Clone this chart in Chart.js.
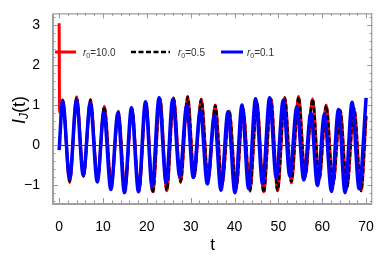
<!DOCTYPE html>
<html>
<head>
<meta charset="utf-8">
<script src="https://cdn.jsdelivr.net/npm/chart.js@4.4.1/dist/chart.umd.min.js"></script>
<style>
  html, body { margin: 0; padding: 0; background: #fff; }
  canvas { display: block; }
</style>
</head>
<body>
<canvas id="chart" width="382" height="257"></canvas>
<script>
// tick labels
const xTicks = [0, 10, 20, 30, 40, 50, 60, 70];
const yTicks = [-1, 0, 1, 2, 3];

// r0 = 0.1 (blue): start, then alternating peak / trough
const blueT = [0, 0.8, 2.4, 3.95, 5.5, 7.1, 8.7, 10.2, 11.8, 13.4, 14.9, 16.5, 18.1, 19.7, 21.2,
  22.8, 24.4, 25.9, 27.5, 29.1, 30.6, 32.2, 33.8, 35.4, 36.9, 38.5, 40.1, 41.7, 43.2, 44.8, 46.4,
  48.0, 49.5, 51.1, 52.6, 54.2, 55.8, 57.4, 58.9, 60.5, 62.1, 63.7, 65.2, 66.8, 68.4, 70.0];
const blueV = [-0.13, 1.1, -0.85, 1.12, -0.76, 1.05, -0.93, 0.82, -1.12, 0.8, -1.2, 0.93, -1.18, 1.08, -1.05,
  1.18, -0.95, 1.14, -0.79, 0.99, -0.82, 0.86, -0.98, 0.73, -1.14, 0.83, -1.2, 1.0, -1.1, 1.16, -0.98,
  1.18, -0.82, 1.12, -0.78, 0.95, -0.88, 0.8, -1.02, 0.77, -1.17, 0.89, -1.2, 1.07, -1.1, 1.18];

// r0 = 10.0 (red) and r0 = 0.5 (black) share the same oscillation times
const osciT = [0.8, 2.4, 4.0, 5.55, 7.15, 8.75, 10.3, 11.9, 13.5, 15.0, 16.6, 18.2, 19.8, 21.35,
  23.0, 24.55, 26.1, 27.7, 29.3, 30.8, 32.4, 34.0, 35.6, 37.15, 38.8, 40.35, 41.95, 43.5, 45.1,
  46.65, 48.3, 49.8, 51.45, 52.95, 54.6, 56.1, 57.8, 59.3, 60.9, 62.45, 64.1, 65.6, 67.25, 68.85, 70.0];
const redStartT = [0, 0.1];
const redStartV = [3.05, 0.82];
const redV = [1.13, -0.95, 1.21, -0.8, 1.14, -0.88, 0.97, -1.0, 0.84, -1.1, 0.9, -1.15, 1.05, -1.18,
  1.15, -1.15, 1.18, -0.95, 1.22, -0.8, 1.15, -0.88, 1.0, -1.0, 0.85, -1.1, 0.9, -1.16, 1.05,
  -1.18, 1.15, -1.15, 1.18, -0.96, 1.22, -0.8, 1.16, -0.88, 1.0, -1.0, 0.87, -1.1, 0.92, -1.15, 0.72];
const blackStartT = [0];
const blackStartV = [-0.1];
const blackV = [1.12, -0.92, 1.19, -0.78, 1.13, -0.87, 0.96, -1.0, 0.84, -1.1, 0.9, -1.15, 1.05, -1.2,
  1.15, -1.14, 1.17, -0.92, 1.2, -0.8, 1.14, -0.88, 0.99, -1.0, 0.85, -1.1, 0.9, -1.17, 1.05,
  -1.2, 1.15, -1.14, 1.19, -0.93, 1.2, -0.8, 1.15, -0.88, 0.99, -1.0, 0.86, -1.1, 0.92, -1.16, 0.72];

const legendItems = [
  { label: '10.0', color: '#ff0000', dash: [], width: 3, x0: 55, x1: 76, tx: 83 },
  { label: '0.5', color: '#000000', dash: [5, 2.5], width: 2.5, x0: 131, x1: 170, tx: 178 },
  { label: '0.1', color: '#0000ff', dash: [], width: 3, x0: 221, x1: 243, tx: 247 }
];

function toPoints(ts, vs) {
  return ts.map((t, i) => ({ x: t, y: vs[i] }));
}

const FONT = '"Liberation Sans", Arial, sans-serif';

// frame, inward ticks, zero line, legend and titles
const framePlugin = {
  id: 'frame',
  afterDatasetsDraw(chart) {
    const { ctx, chartArea: a, scales: { y } } = chart;
    const y0 = Math.round(y.getPixelForValue(0)) + 0.5;
    ctx.save();
    ctx.strokeStyle = '#333';
    ctx.lineWidth = 1;
    ctx.beginPath();
    ctx.moveTo(a.left, y0);
    ctx.lineTo(a.right, y0);
    ctx.stroke();
    ctx.restore();
  },
  afterDraw(chart) {
    const { ctx, chartArea: a, scales: { x, y } } = chart;
    ctx.save();

    // ticks
    ctx.strokeStyle = '#999';
    ctx.lineWidth = 1;
    ctx.beginPath();
    for (let v = 0; v <= x.max; v += 2) {
      const px = Math.round(x.getPixelForValue(v)) + 0.5;
      const len = v % 10 === 0 ? 5 : 2.5;
      ctx.moveTo(px, a.bottom); ctx.lineTo(px, a.bottom - len);
      ctx.moveTo(px, a.top); ctx.lineTo(px, a.top + len);
    }
    for (let k = -7; k <= 16; k++) {
      const v = k / 5;
      const py = Math.round(y.getPixelForValue(v)) + 0.5;
      const len = k % 5 === 0 ? 5 : 2.5;
      ctx.moveTo(a.left, py); ctx.lineTo(a.left + len, py);
      ctx.moveTo(a.right, py); ctx.lineTo(a.right - len, py);
    }
    ctx.stroke();

    // frame
    ctx.strokeStyle = '#888';
    ctx.lineWidth = 1;
    ctx.beginPath();
    ctx.moveTo(a.left, a.top + 0.5); ctx.lineTo(a.right, a.top + 0.5);
    ctx.moveTo(a.right - 0.5, a.top); ctx.lineTo(a.right - 0.5, a.bottom);
    ctx.stroke();
    ctx.strokeStyle = '#a0a0a0';
    ctx.lineWidth = 2;
    ctx.beginPath();
    ctx.moveTo(a.left, a.top); ctx.lineTo(a.left, a.bottom + 1);
    ctx.lineTo(a.right, a.bottom + 1);
    ctx.stroke();

    // legend
    const ly = 52;
    legendItems.forEach(it => {
      ctx.strokeStyle = it.color;
      ctx.lineWidth = it.width;
      ctx.setLineDash(it.dash);
      ctx.beginPath();
      ctx.moveTo(it.x0, ly); ctx.lineTo(it.x1, ly);
      ctx.stroke();
      ctx.setLineDash([]);
      ctx.fillStyle = '#333';
      ctx.textBaseline = 'alphabetic';
      let tx = it.tx;
      ctx.font = 'italic 10px ' + FONT;
      ctx.fillText('r', tx, ly + 3.5);
      tx += ctx.measureText('r').width;
      ctx.font = '7px ' + FONT;
      ctx.fillText('0', tx, ly + 5.5);
      tx += ctx.measureText('0').width;
      ctx.font = '10px ' + FONT;
      ctx.fillText('=' + it.label, tx, ly + 3.5);
    });

    // y title
    ctx.fillStyle = '#000';
    ctx.save();
    ctx.translate(25, 110);
    ctx.rotate(-Math.PI / 2);
    ctx.textBaseline = 'alphabetic';
    const parts = [
      { t: 'I', f: 'italic 18px ' + FONT, dy: 0 },
      { t: 'J', f: 'italic 12px ' + FONT, dy: 3 },
      { t: '(t)', f: '18px ' + FONT, dy: 0 }
    ];
    let w = 0;
    parts.forEach(p => { ctx.font = p.f; w += ctx.measureText(p.t).width; });
    let px = -w / 2;
    parts.forEach(p => {
      ctx.font = p.f;
      ctx.fillText(p.t, px, p.dy);
      px += ctx.measureText(p.t).width;
    });
    ctx.restore();

    // x title
    ctx.font = '17px ' + FONT;
    ctx.textAlign = 'center';
    ctx.textBaseline = 'alphabetic';
    ctx.fillText('t', (a.left + a.right) / 2, 250);

    ctx.restore();
  }
};

new Chart(document.getElementById('chart'), {
  type: 'line',
  data: {
    datasets: [
      {
        label: 'r0=0.1',
        data: toPoints(blueT, blueV),
        borderColor: '#0000ff',
        borderWidth: 3.5
      },
      {
        label: 'r0=0.5',
        data: toPoints(blackStartT.concat(osciT), blackStartV.concat(blackV)),
        borderColor: '#000000',
        borderWidth: 2.5,
        borderDash: [5, 2.5]
      },
      {
        label: 'r0=10.0',
        data: toPoints(redStartT.concat(osciT), redStartV.concat(redV)),
        borderColor: '#ff0000',
        borderWidth: 3
      }
    ]
  },
  options: {
    responsive: false,
    animation: false,
    devicePixelRatio: 1,
    layout: { padding: { left: 0, right: 5, top: 3, bottom: 0 } },
    elements: {
      point: { radius: 0 },
      line: { tension: 0.4, cubicInterpolationMode: 'monotone', fill: false }
    },
    plugins: {
      legend: { display: false },
      tooltip: { enabled: false }
    },
    scales: {
      x: {
        type: 'linear',
        min: -1.4,
        max: 71.4,
        grid: { display: false },
        border: { display: false },
        afterBuildTicks: s => { s.ticks = xTicks.map(v => ({ value: v })); },
        afterFit: s => { s.height = 54; },
        ticks: { color: '#000', padding: 8, maxRotation: 0, font: { family: FONT, size: 14 } }
      },
      y: {
        type: 'linear',
        min: -1.46,
        max: 3.3,
        grid: { display: false },
        border: { display: false },
        afterBuildTicks: s => { s.ticks = yTicks.map(v => ({ value: v })); },
        afterFit: s => { s.width = 53; },
        ticks: {
          color: '#000', padding: 5, font: { family: FONT, size: 14 },
          callback: v => (v < 0 ? '\u2212' + Math.abs(v) : String(v))
        }
      }
    }
  },
  plugins: [framePlugin]
});
</script>
</body>
</html>
